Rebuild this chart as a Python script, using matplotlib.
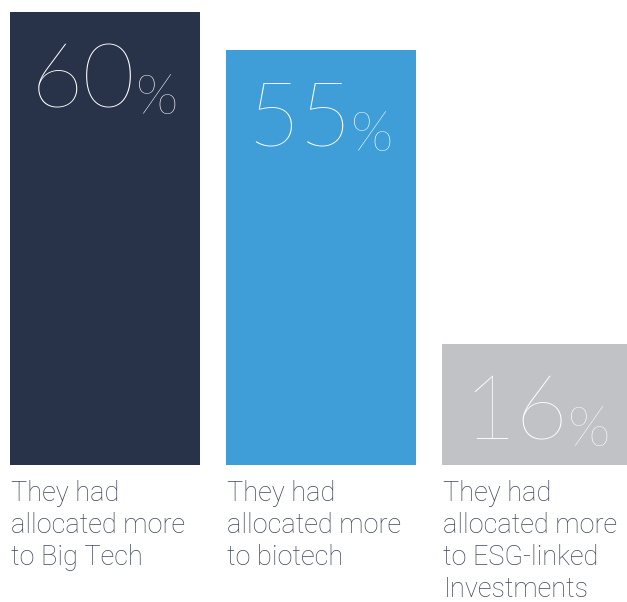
import matplotlib
matplotlib.use("Agg")
import matplotlib.pyplot as plt

# survey shares per sector
values = [60, 55, 16]
labels = [
    "They had\nallocated more\nto Big Tech",
    "They had\nallocated more\nto biotech",
    "They had\nallocated more\nto ESG-linked\nInvestments",
]
colors = ["#283349", "#3f9ed8", "#c0c2c6"]

W, H = 627, 602
fig = plt.figure(figsize=(W / 100, H / 100), dpi=100)
# one bar slot is 216 px wide; value 0 sits at y=465 px, 60 at y=12 px
ax = fig.add_axes([-3 / W, (H - 465) / H, 648 / W, 453 / H])
ax.set_xlim(-0.5, 2.5)
ax.set_ylim(0, 60)
ax.axis("off")

x = list(range(len(values)))
bar_w = 190 / 216
ax.bar(x, values, width=bar_w, color=colors, clip_on=False)

for xi, v, lab in zip(x, values, labels):
    left = xi - bar_w / 2
    # big percentage inside the bar, near its top
    t = ax.annotate(str(v), (left, v), xytext=(15, -22), textcoords="offset points",
                    ha="left", va="top", color="white", fontsize=65,
                    family="Lato", fontweight="light")
    ax.annotate("%", (1, 0), xycoords=t, xytext=(0, 0), textcoords="offset points",
                ha="left", va="bottom", color="white", fontsize=40,
                family="Lato", fontweight="light")
    ax.annotate(lab, (left, 0), xytext=(1, -11), textcoords="offset points",
                ha="left", va="top", color="#3e485c", fontsize=19.5,
                family="Roboto", fontweight="light", linespacing=1.24)

fig.savefig("out.png", dpi=100)
